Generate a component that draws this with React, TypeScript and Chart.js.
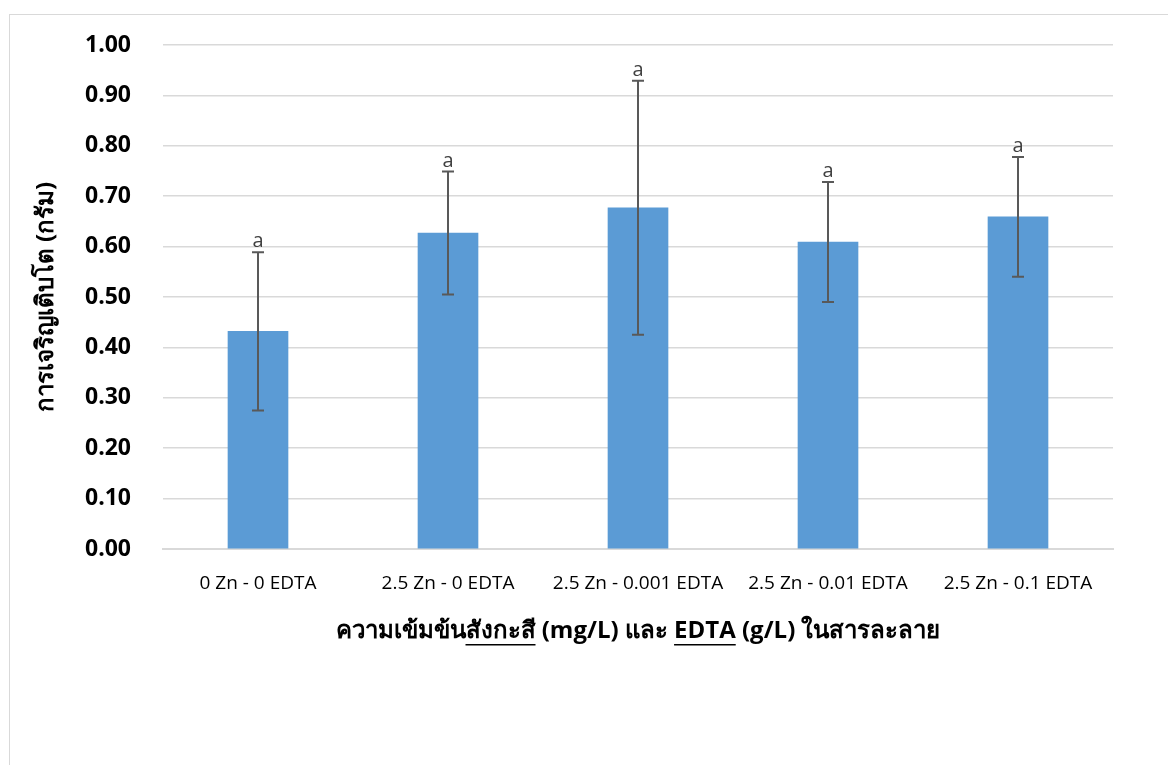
import React, { useEffect, useRef } from "react";
import { Chart, registerables } from "chart.js";

Chart.register(...registerables);

const categories = [
  "0 Zn - 0 EDTA",
  "2.5 Zn - 0 EDTA",
  "2.5 Zn - 0.001 EDTA",
  "2.5 Zn - 0.01 EDTA",
  "2.5 Zn - 0.1 EDTA",
];
const growth = [0.432, 0.627, 0.677, 0.609, 0.659];
const errors = [0.157, 0.122, 0.252, 0.119, 0.119];
const letters = ["a", "a", "a", "a", "a"];

const yTitle = "การเจริญเติบโต (กรัม)";
const xTitlePre = "ความเข้มข้น";
const xTitleU1 = "สังกะสี";
const xTitleMid = " (mg/L) และ ";
const xTitleU2 = "EDTA";
const xTitlePost = " (g/L) ในสารละลาย";
const xTitle = xTitlePre + xTitleU1 + xTitleMid + xTitleU2 + xTitlePost;

const FONT = "'Open Sans', 'Noto Sans', 'DejaVu Sans', sans-serif";
const X_TITLE_SIZE = 24;
const X_TITLE_PAD_BOTTOM = 3;

const errorBarPlugin = {
  id: "errorBars",
  afterDatasetsDraw(chart: any) {
    const ctx = chart.ctx;
    const meta = chart.getDatasetMeta(0);
    const y = chart.scales.y;
    ctx.save();
    ctx.strokeStyle = "#595959";
    ctx.lineWidth = 2;
    meta.data.forEach((bar: any, i: number) => {
      const x = bar.x;
      const top = y.getPixelForValue(growth[i] + errors[i]);
      const bot = y.getPixelForValue(growth[i] - errors[i]);
      ctx.beginPath();
      ctx.moveTo(x, top);
      ctx.lineTo(x, bot);
      ctx.moveTo(x - 6, top);
      ctx.lineTo(x + 6, top);
      ctx.moveTo(x - 6, bot);
      ctx.lineTo(x + 6, bot);
      ctx.stroke();
      ctx.fillStyle = "#404040";
      ctx.font = `20px ${FONT}`;
      ctx.textAlign = "center";
      ctx.textBaseline = "alphabetic";
      ctx.fillText(letters[i], x, top - 5);
    });
    ctx.restore();
  },
};

const underlinePlugin = {
  id: "titleUnderline",
  afterDraw(chart: any) {
    const ctx = chart.ctx;
    const xs = chart.scales.x;
    const lineHeight = X_TITLE_SIZE * 1.2;
    const cy = xs.bottom - lineHeight / 2 - X_TITLE_PAD_BOTTOM;
    const cx = (xs.left + xs.right) / 2;
    ctx.save();
    ctx.font = `bold ${X_TITLE_SIZE}px ${FONT}`;
    const W = ctx.measureText(xTitle).width;
    const start = cx - W / 2;
    const uy = cy + X_TITLE_SIZE * 0.55;
    const seg = (pre: string, s: string) => {
      const a = start + ctx.measureText(pre).width;
      const b = start + ctx.measureText(pre + s).width;
      ctx.beginPath();
      ctx.moveTo(a, uy);
      ctx.lineTo(b, uy);
      ctx.stroke();
    };
    ctx.strokeStyle = "#000";
    ctx.lineWidth = 1.5;
    seg(xTitlePre, xTitleU1);
    seg(xTitlePre + xTitleU1 + xTitleMid, xTitleU2);
    ctx.restore();
  },
};

export default function App() {
  const ref = useRef<HTMLCanvasElement | null>(null);
  useEffect(() => {
    if (!ref.current) return;
    const chart = new Chart(ref.current, {
      type: "bar",
      data: {
        labels: categories,
        datasets: [
          {
            data: growth,
            backgroundColor: "#5b9bd5",
            borderWidth: 0,
            barThickness: 60,
          },
        ],
      },
      options: {
        responsive: false,
        animation: false,
        layout: { padding: { left: 0, right: 55, top: 30, bottom: 116 } },
        plugins: { legend: { display: false }, tooltip: { enabled: false } },
        scales: {
          x: {
            grid: { display: false, drawTicks: false },
            border: { display: true, color: "#d9d9d9", width: 2 },
            ticks: {
              color: "#000",
              padding: 23,
              maxRotation: 0,
              autoSkip: false,
              font: { family: FONT, size: 19 },
            },
            title: {
              display: true,
              text: xTitle,
              color: "#000",
              padding: { top: 0, bottom: X_TITLE_PAD_BOTTOM },
              font: { family: FONT, size: X_TITLE_SIZE, weight: "bold" },
            },
            afterFit(scale: any) {
              scale.height = 100;
            },
          },
          y: {
            min: 0,
            max: 1,
            grid: {
              color: "#d9d9d9",
              lineWidth: 1.5,
              drawTicks: true,
              tickLength: 24,
              tickColor: "rgba(0,0,0,0)",
            },
            border: { display: false },
            ticks: {
              stepSize: 0.1,
              padding: 8,
              color: "#000",
              font: { family: FONT, size: 23, weight: "bold" },
              callback: (v: any) => Number(v).toFixed(2),
            },
            title: {
              display: true,
              text: yTitle,
              color: "#000",
              padding: { top: 22, bottom: 0 },
              font: { family: FONT, size: 24, weight: "bold" },
            },
            afterFit(scale: any) {
              scale.width = 153;
            },
          },
        },
      },
      plugins: [errorBarPlugin, underlinePlugin],
    });
    return () => chart.destroy();
  }, []);

  return (
    <div
      style={{
        position: "fixed",
        left: 9,
        top: 14,
        width: 1300,
        height: 900,
        border: "1px solid #d9d9d9",
        background: "#fff",
      }}
    >
      <canvas
        ref={ref}
        width={1158}
        height={750}
        style={{ display: "block", position: "absolute", left: 0, top: 0 }}
      />
    </div>
  );
}
